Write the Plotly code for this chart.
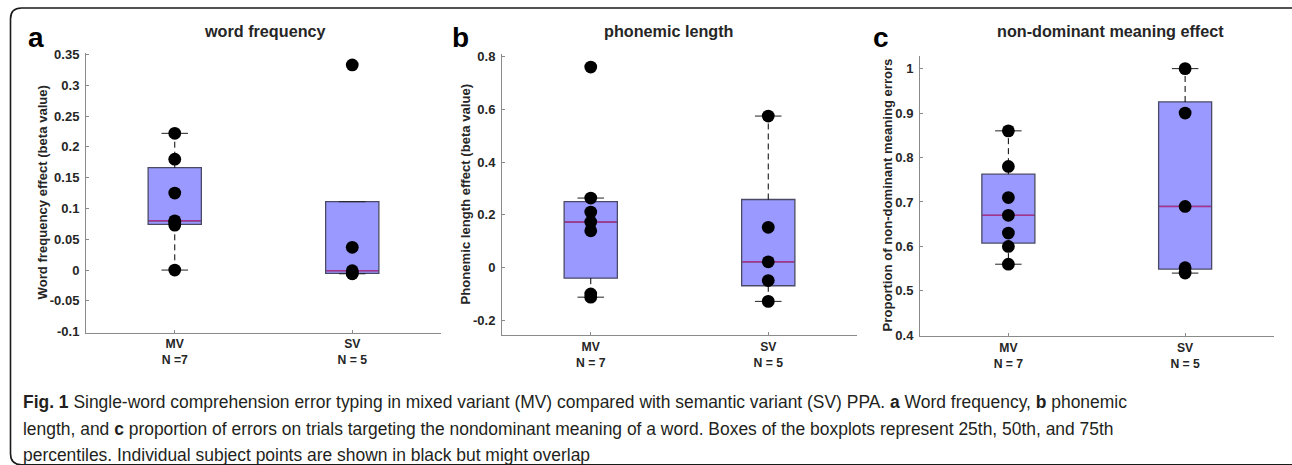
import numpy as np
import plotly.graph_objects as go

W, H = 1292, 465

# ---------------- data ----------------
groups = ["MV", "SV"]
positions = [1, 2]

word_freq_mv = [0.0, 0.073, 0.078, 0.080, 0.125, 0.180, 0.222]
word_freq_sv = [-0.006, -0.005, -0.001, 0.037, 0.333]

phon_len_mv = [-0.112, -0.100, 0.140, 0.173, 0.211, 0.264, 0.761]
phon_len_sv = [-0.128, -0.049, 0.022, 0.153, 0.575]

nondom_mv = [0.56, 0.60, 0.63, 0.67, 0.71, 0.78, 0.86]
nondom_sv = [0.54, 0.552, 0.69, 0.90, 1.00]

xtick_a = ["MV<br>N =7", "SV<br>N = 5"]
xtick_b = ["MV<br>N = 7", "SV<br>N = 5"]
xtick_c = ["MV<br>N = 7", "SV<br>N = 5"]

ytickvals_a = [-0.1, -0.05, 0, 0.05, 0.1, 0.15, 0.2, 0.25, 0.3, 0.35]
yticktext_a = ["-0.1", "-0.05", "0", "0.05", "0.1", "0.15", "0.2", "0.25", "0.3", "0.35"]
ytickvals_b = [-0.2, 0, 0.2, 0.4, 0.6, 0.8]
yticktext_b = ["-0.2", "0", "0.2", "0.4", "0.6", "0.8"]
ytickvals_c = [0.4, 0.5, 0.6, 0.7, 0.8, 0.9, 1.0]
yticktext_c = ["0.4", "0.5", "0.6", "0.7", "0.8", "0.9", "1"]

titles = ["word frequency", "phonemic length", "non-dominant meaning effect"]
ytitles = ["Word frequency effect (beta value)",
           "Phonemic length effect (beta value)",
           "Proportion of non-dominant meaning errors"]
letters = ["a", "b", "c"]

# ---------------- styles ----------------
BOX_FILL = "#9999ff"
BOX_EDGE = "#4a4a66"
MEDIAN = "#a8338f"
AXIS = "#8a8a8a"
TXT = "#262626"
BOXW = 0.3
CAPW = 0.15
FONT = "Liberation Sans, Arial, sans-serif"

# vertical calibration of the photographed page (page pixel -> photo pixel)
Y_OFF, Y_SCALE = 6.5, 0.9725


def px_x(p):
    return p / W


def px_y(d):
    p = (d - Y_OFF) / Y_SCALE
    return 1 - p / H


panels = [
    dict(data=[word_freq_mv, word_freq_sv], xt=xtick_a, tv=ytickvals_a, tt=yticktext_a,
         xdom=(86, 441), ydom=(333.3, 53.3), yr=(-0.1016, 0.3528),
         title_x=265, ytitle_x=42, ytitle_y=193, letter_x=36),
    dict(data=[phon_len_mv, phon_len_sv], xt=xtick_b, tv=ytickvals_b, tt=yticktext_b,
         xdom=(502, 857), ydom=(335.7, 55), yr=(-0.2557, 0.8087),
         title_x=669, ytitle_x=465, ytitle_y=195, letter_x=460),
    dict(data=[nondom_mv, nondom_sv], xt=xtick_c, tv=ytickvals_c, tt=yticktext_c,
         xdom=(920, 1273.5), ydom=(336.7, 56.7), yr=(0.3984, 1.028),
         title_x=1110, ytitle_x=887, ytitle_y=196, letter_x=881),
]

fig = go.Figure()
annotations = []
layout_axes = {}

for i, p in enumerate(panels):
    sfx = "" if i == 0 else str(i + 1)
    xa, ya = "x" + sfx, "y" + sfx
    for pos, vals in zip(positions, p["data"]):
        v = np.array(vals, dtype=float)
        q1, med, q3 = np.percentile(v, [25, 50, 75], method="hazen")
        iqr = q3 - q1
        up = v[v <= q3 + 1.5 * iqr].max()
        lo = v[v >= q1 - 1.5 * iqr].min()
        up = max(up, q3)
        lo = min(lo, q1)
        fig.add_trace(go.Box(x=[pos], q1=[q1], median=[med], q3=[q3],
                             lowerfence=[q1], upperfence=[q3],
                             width=BOXW, whiskerwidth=0, fillcolor=BOX_FILL,
                             line=dict(color=BOX_EDGE, width=1.3),
                             boxpoints=False, hoverinfo="skip",
                             xaxis=xa, yaxis=ya, showlegend=False))
        for a, b in [(q3, up), (q1, lo)]:
            if abs(b - a) > 1e-12:
                fig.add_trace(go.Scatter(x=[pos, pos], y=[a, b], mode="lines",
                                         line=dict(color="#000000", width=1, dash="6px,4px"),
                                         xaxis=xa, yaxis=ya, showlegend=False, hoverinfo="skip"))
        for c in [up, lo]:
            fig.add_trace(go.Scatter(x=[pos - CAPW / 2, pos + CAPW / 2], y=[c, c], mode="lines",
                                     line=dict(color="#222222", width=1),
                                     xaxis=xa, yaxis=ya, showlegend=False, hoverinfo="skip"))
        fig.add_trace(go.Scatter(x=[pos - BOXW / 2 + 0.005, pos + BOXW / 2 - 0.005], y=[med, med],
                                 mode="lines", line=dict(color=MEDIAN, width=1.5),
                                 xaxis=xa, yaxis=ya, showlegend=False, hoverinfo="skip"))
        fig.add_trace(go.Scatter(x=[pos] * len(v), y=v, mode="markers",
                                 marker=dict(color="#000000", size=12.8),
                                 xaxis=xa, yaxis=ya, showlegend=False, hoverinfo="skip"))

    layout_axes["xaxis" + sfx] = dict(
        domain=[px_x(p["xdom"][0]), px_x(p["xdom"][1])], range=[0.5, 2.5],
        anchor=ya, tickvals=positions, ticktext=p["xt"],
        ticks="inside", ticklen=3, tickcolor=AXIS, showline=True, linecolor=AXIS, linewidth=1,
        showgrid=False, zeroline=False, fixedrange=True,
        tickfont=dict(family=FONT, size=12.2, color=TXT, weight="bold"),
        ticklabelstandoff=0)
    layout_axes["yaxis" + sfx] = dict(
        domain=[px_y(p["ydom"][0]), px_y(p["ydom"][1])], range=list(p["yr"]),
        anchor=xa, tickvals=p["tv"], ticktext=p["tt"],
        ticks="inside", ticklen=3, tickcolor=AXIS, showline=True, linecolor=AXIS, linewidth=1,
        showgrid=False, zeroline=False, fixedrange=True,
        tickfont=dict(family=FONT, size=13, color=TXT, weight="bold"),
        ticklabelstandoff=3)

    annotations.append(dict(text="<b>" + titles[i] + "</b>", x=px_x(p["title_x"]), y=px_y(32),
                            xref="paper", yref="paper", showarrow=False, xanchor="center", yanchor="middle",
                            font=dict(family=FONT, size=16.2, color=TXT)))
    annotations.append(dict(text="<b>" + ytitles[i] + "</b>", x=px_x(p["ytitle_x"]), y=px_y(p["ytitle_y"]),
                            xref="paper", yref="paper", showarrow=False, textangle=-90,
                            xanchor="center", yanchor="middle",
                            font=dict(family=FONT, size=13.1, color=TXT)))
    annotations.append(dict(text="<b>" + letters[i] + "</b>", x=px_x(p["letter_x"]), y=px_y(38),
                            xref="paper", yref="paper", showarrow=False, xanchor="center", yanchor="middle",
                            font=dict(family=FONT, size=28, color="#000000")))

caption_lines = [
    "<b>Fig. 1</b> Single-word comprehension error typing in mixed variant (MV) compared with semantic variant (SV) PPA. <b>a</b> Word frequency, <b>b</b> phonemic",
    "length, and <b>c</b> proportion of errors on trials targeting the nondominant meaning of a word. Boxes of the boxplots represent 25th, 50th, and 75th",
    "percentiles. Individual subject points are shown in black but might overlap",
]
for k, line in enumerate(caption_lines):
    annotations.append(dict(text=line, x=px_x(21), y=px_y(403 + 26.5 * k), xref="paper", yref="paper",
                            showarrow=False, xanchor="left", yanchor="middle",
                            font=dict(family=FONT, size=17.45, color="#231f20")))

x0, x1, y0, y1, r = 10.5, 1330, 8.5, 465.5, 11


def P(x, y):
    return f"{px_x(x):.6f},{px_y(y):.6f}"


frame_path = (f"M {P(x0 + r, y0)} L {P(x1 - r, y0)} Q {P(x1, y0)} {P(x1, y0 + r)} "
              f"L {P(x1, y1 - r)} Q {P(x1, y1)} {P(x1 - r, y1)} L {P(x0 + r, y1)} "
              f"Q {P(x0, y1)} {P(x0, y1 - r)} L {P(x0, y0 + r)} Q {P(x0, y0)} {P(x0 + r, y0)} Z")

fig.update_layout(
    width=W, height=H, margin=dict(l=0, r=0, t=0, b=0),
    paper_bgcolor="white", plot_bgcolor="white", showlegend=False,
    annotations=annotations,
    shapes=[dict(type="path", path=frame_path, xref="paper", yref="paper",
                 line=dict(color="#1a1a1a", width=1.6), layer="above")],
    **layout_axes,
)

fig.write_html("out.html", config={"displayModeBar": False})
